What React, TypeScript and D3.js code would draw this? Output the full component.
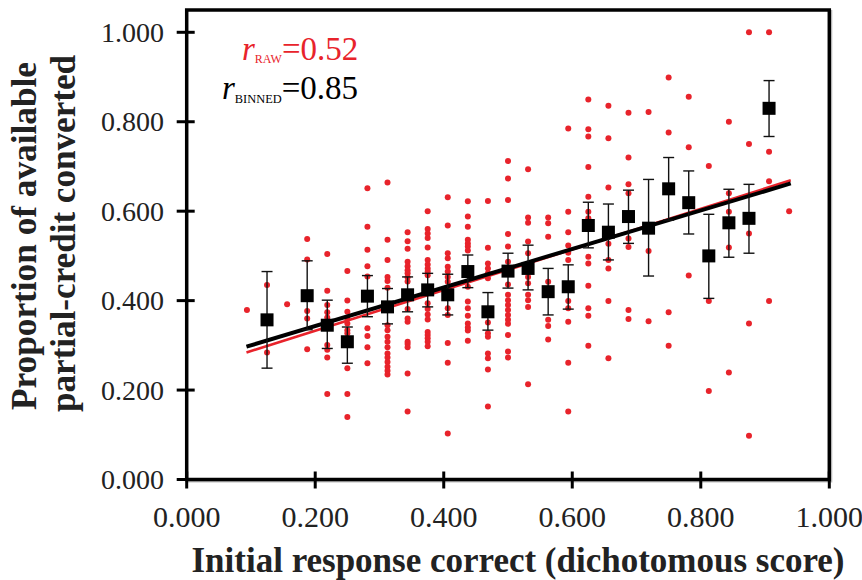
import React from "react";
import * as d3 from "d3";

// ---- data ----
const rawColumnX: number[] = [
  0.09375, 0.125, 0.15625, 0.1875, 0.21875, 0.25, 0.28125, 0.3125, 0.34375, 0.375,
  0.40625, 0.4375, 0.46875, 0.5, 0.53125, 0.5625, 0.59375, 0.625, 0.65625, 0.6875,
  0.71875, 0.75, 0.78125, 0.8125, 0.84375, 0.875, 0.90625, 0.9375,
];
const rawColumnValues: number[][] = [
  [0.379],
  [0.435, 0.284],
  [0.392],
  [0.538, 0.492, 0.377, 0.36, 0.291],
  [0.504, 0.422, 0.39, 0.374, 0.362, 0.301, 0.29, 0.273, 0.191],
  [0.466, 0.4, 0.375, 0.36, 0.349, 0.334, 0.327, 0.249, 0.191, 0.14],
  [0.651, 0.565, 0.514, 0.477, 0.454, 0.338, 0.321, 0.296, 0.26],
  [0.664, 0.536, 0.491, 0.453, 0.444, 0.429, 0.345, 0.334, 0.319, 0.308, 0.296, 0.282, 0.273, 0.263, 0.252, 0.243, 0.235],
  [0.553, 0.533, 0.516, 0.487, 0.477, 0.468, 0.461, 0.452, 0.443, 0.381, 0.36, 0.353, 0.308, 0.303, 0.296, 0.237, 0.152],
  [0.6, 0.56, 0.55, 0.54, 0.519, 0.491, 0.481, 0.472, 0.465, 0.457, 0.394, 0.381, 0.369, 0.358, 0.33, 0.323, 0.316, 0.308, 0.298],
  [0.631, 0.568, 0.506, 0.495, 0.476, 0.465, 0.453, 0.442, 0.383, 0.368, 0.305, 0.261, 0.103],
  [0.622, 0.588, 0.565, 0.536, 0.528, 0.521, 0.512, 0.431, 0.398, 0.383, 0.366, 0.349, 0.34, 0.333, 0.31],
  [0.623, 0.518, 0.483, 0.472, 0.461, 0.45, 0.351, 0.327, 0.319, 0.282, 0.271, 0.246, 0.163],
  [0.712, 0.673, 0.625, 0.549, 0.521, 0.487, 0.436, 0.413, 0.401, 0.39, 0.379, 0.368, 0.357, 0.348, 0.323, 0.286, 0.273],
  [0.694, 0.586, 0.574, 0.532, 0.506, 0.453, 0.439, 0.413, 0.401, 0.386, 0.213],
  [0.586, 0.573, 0.543, 0.442, 0.357, 0.343, 0.313],
  [0.785, 0.599, 0.553, 0.523, 0.507, 0.491, 0.399, 0.383, 0.353, 0.261, 0.152],
  [0.85, 0.783, 0.767, 0.699, 0.632, 0.599, 0.584, 0.498, 0.483, 0.433, 0.383, 0.366, 0.299],
  [0.836, 0.763, 0.653, 0.527, 0.491, 0.472, 0.399, 0.271],
  [0.82, 0.72, 0.66, 0.64, 0.539, 0.52, 0.379, 0.359],
  [0.822, 0.511, 0.354],
  [0.899, 0.776, 0.374, 0.299],
  [0.856, 0.743, 0.456],
  [0.701, 0.399, 0.198],
  [0.8, 0.64, 0.599, 0.519, 0.239],
  [1.0, 0.75, 0.55, 0.349, 0.098],
  [1.0, 0.733, 0.667, 0.399],
  [0.6],
];

const binX: number[] = [
  0.125, 0.1875, 0.21875, 0.25, 0.28125, 0.3125, 0.34375, 0.375, 0.40625, 0.4375,
  0.46875, 0.5, 0.53125, 0.5625, 0.59375, 0.625, 0.65625, 0.6875, 0.71875, 0.75,
  0.78125, 0.8125, 0.84375, 0.875, 0.90625,
];
const binMean: number[] = [
  0.357, 0.411, 0.345, 0.308, 0.41, 0.386, 0.413, 0.424, 0.413, 0.465,
  0.375, 0.466, 0.472, 0.42, 0.431, 0.568, 0.553, 0.588, 0.562, 0.65,
  0.619, 0.5, 0.574, 0.584, 0.83,
];
const binUpper: number[] = [
  0.465, 0.489, 0.401, 0.341, 0.456, 0.427, 0.453, 0.461, 0.459, 0.502,
  0.418, 0.506, 0.524, 0.472, 0.48, 0.62, 0.616, 0.647, 0.671, 0.72,
  0.69, 0.593, 0.649, 0.66, 0.892,
];
const binLower: number[] = [
  0.249, 0.335, 0.293, 0.26, 0.364, 0.348, 0.375, 0.386, 0.368, 0.429,
  0.334, 0.428, 0.424, 0.368, 0.381, 0.518, 0.491, 0.528, 0.455, 0.58,
  0.549, 0.405, 0.497, 0.506, 0.767,
];

const fitX: number[] = [0.093, 0.94];
const fitRawY: number[] = [0.284, 0.669];
const fitBinnedY: number[] = [0.297, 0.662];

const tickValues: number[] = [0, 0.2, 0.4, 0.6, 0.8, 1.0];

const RED = "#e8232b";
const SERIF = "Liberation Serif, Times New Roman, Times, serif";

export default function App() {
  const W = 862;
  const H = 580;
  const x = d3.scaleLinear().domain([0, 1]).range([186.7, 829.3]);
  const y = d3.scaleLinear().domain([0, 1]).range([479.5, 32.3]);
  const fmt = d3.format(".3f");
  const line = d3
    .line<[number, number]>()
    .x((d) => x(d[0]))
    .y((d) => y(d[1]));

  const points: { cx: number; cy: number }[] = [];
  rawColumnX.forEach((cx, i) => {
    rawColumnValues[i].forEach((v) => points.push({ cx, cy: v }));
  });

  const sq = 13;
  const cap = 5.5;
  const top = 10;

  return (
    <svg
      width={W}
      height={H}
      style={{ position: "absolute", left: 0, top: 0, background: "#fff", fontFamily: SERIF }}
    >
      {/* frame shadow */}
      <rect
        x={x(0) + 1.5}
        y={top + 1.5}
        width={x(1) - x(0)}
        height={y(0) - top}
        fill="none"
        stroke="#bdbdbd"
        strokeWidth={3}
      />
      <rect x={x(0)} y={top} width={x(1) - x(0)} height={y(0) - top} fill="#fff" stroke="none" />

      {/* raw points */}
      {points.map((p, i) => (
        <circle key={i} cx={x(p.cx)} cy={y(p.cy)} r={3} fill={RED} />
      ))}

      {/* fits */}
      <path
        d={line(fitX.map((v, i) => [v, fitRawY[i]]) as [number, number][]) || ""}
        stroke={RED}
        strokeWidth={2.6}
        fill="none"
      />
      <path
        d={line(fitX.map((v, i) => [v, fitBinnedY[i]]) as [number, number][]) || ""}
        stroke="#000"
        strokeWidth={4}
        fill="none"
      />

      {/* error bars */}
      {binX.map((bx, i) => (
        <g key={i} stroke="#111" strokeWidth={1.4}>
          <line x1={x(bx)} x2={x(bx)} y1={y(binUpper[i])} y2={y(binLower[i])} />
          <line x1={x(bx) - cap} x2={x(bx) + cap} y1={y(binUpper[i])} y2={y(binUpper[i])} />
          <line x1={x(bx) - cap} x2={x(bx) + cap} y1={y(binLower[i])} y2={y(binLower[i])} />
        </g>
      ))}
      {/* binned means */}
      {binX.map((bx, i) => (
        <rect key={i} x={x(bx) - sq / 2} y={y(binMean[i]) - sq / 2} width={sq} height={sq} fill="#000" />
      ))}

      {/* frame */}
      <rect
        x={x(0)}
        y={top}
        width={x(1) - x(0)}
        height={y(0) - top}
        fill="none"
        stroke="#000"
        strokeWidth={3.5}
      />

      {/* y ticks */}
      {tickValues.map((t) => (
        <g key={"y" + t}>
          <line x1={x(0) - 10} x2={x(0) + 8} y1={y(t)} y2={y(t)} stroke="#000" strokeWidth={3} />
          <text x={164} y={y(t) + 9.5} fontSize={28} textAnchor="end" fill="#222">
            {fmt(t)}
          </text>
        </g>
      ))}
      {/* x ticks */}
      {tickValues.map((t) => (
        <g key={"x" + t}>
          <line x1={x(t)} x2={x(t)} y1={y(0) - 8} y2={y(0) + 9} stroke="#000" strokeWidth={3} />
          <text x={x(t)} y={527} fontSize={30} textAnchor="middle" fill="#222">
            {fmt(t)}
          </text>
        </g>
      ))}

      {/* x title */}
      <text
        x={518}
        y={572}
        fontSize={35}
        fontWeight="bold"
        textAnchor="middle"
        fill="#222"
        textLength={653}
        lengthAdjust="spacingAndGlyphs"
      >
        Initial response correct (dichotomous score)
      </text>

      {/* y title */}
      <text
        transform="translate(36,236) rotate(-90)"
        fontSize={35}
        fontWeight="bold"
        textAnchor="middle"
        fill="#222"
        textLength={348}
        lengthAdjust="spacingAndGlyphs"
      >
        Proportion of available
      </text>
      <text
        transform="translate(75,233.5) rotate(-90)"
        fontSize={35}
        fontWeight="bold"
        textAnchor="middle"
        fill="#222"
        textLength={357}
        lengthAdjust="spacingAndGlyphs"
      >
        partial-credit converted
      </text>

      {/* correlation annotations */}
      <text x={242} y={59.5} fill={RED} fontSize={33}>
        <tspan fontStyle="italic">r</tspan>
        <tspan fontSize={12} dy={3.5}>RAW</tspan>
        <tspan dy={-3.5}>=0.52</tspan>
      </text>
      <text x={222} y={99} fill="#000" fontSize={33}>
        <tspan fontStyle="italic">r</tspan>
        <tspan fontSize={12.4} dy={4}>BINNED</tspan>
        <tspan dy={-4}>=0.85</tspan>
      </text>
    </svg>
  );
}
